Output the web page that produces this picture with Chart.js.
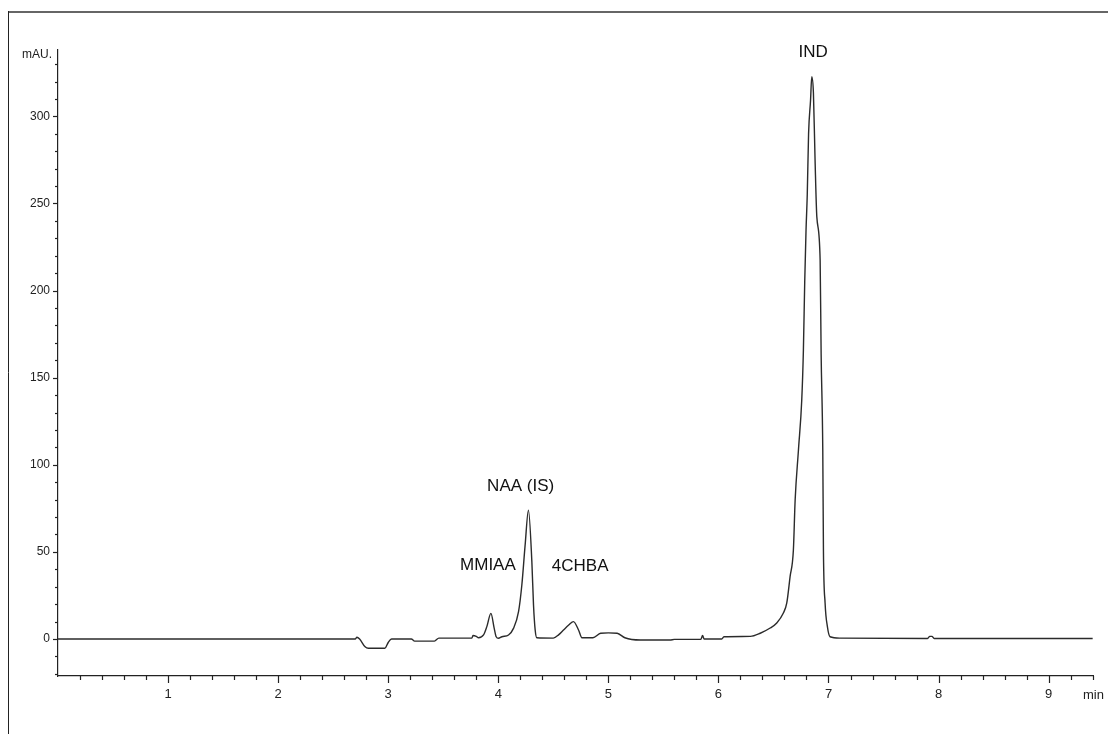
<!DOCTYPE html>
<html>
<head>
<meta charset="utf-8">
<script src="https://cdn.jsdelivr.net/npm/chart.js@4.4.1/dist/chart.umd.min.js"></script>
<style>
  html, body { margin: 0; padding: 0; background: #fff; }
  canvas { display: block; }
</style>
</head>
<body>
<canvas id="c" width="1108" height="734"></canvas>
<script>
// ---- Data ----
const retentionTimes = [
  0, 2.70, 2.716, 2.74, 2.79, 2.82, 2.97, 3.00, 3.03, 3.21, 3.24, 3.42, 3.46,
  3.76, 3.77, 3.80, 3.82, 3.866, 3.896, 3.933, 3.963, 3.981, 4.002,
  4.033, 4.093, 4.138, 4.184, 4.214, 4.244, 4.274, 4.305, 4.320, 4.335, 4.350,
  4.50, 4.55, 4.59, 4.64, 4.683, 4.73, 4.76, 4.86, 4.93, 5.00, 5.08, 5.15,
  5.29, 5.56, 5.60, 5.84, 5.856, 5.87, 6.03, 6.05, 6.29, 6.38,
  6.470, 6.530, 6.590, 6.621, 6.651, 6.681, 6.697, 6.727, 6.757, 6.772, 6.784,
  6.796, 6.807, 6.819, 6.837, 6.848, 6.863, 6.878, 6.894, 6.924, 6.933, 6.948,
  6.954, 6.969, 6.990, 7.014, 7.105, 7.90, 7.92, 7.94, 7.96, 9.40
];
const absorbance = [
  0, 0, 1.0, 0, -4.5, -5.3, -5.3, -2, 0, 0, -1.2, -1.2, 0.5,
  0.5, 2.0, 1.5, 0.7, 2.3, 7.1, 14.7, 6.1, 1.3, 0.4,
  1.3, 2.3, 6.1, 15.7, 31, 54, 74, 44.4, 19.5, 5.2, 0.7,
  0.5, 2.5, 5, 8, 10, 5, 0.7, 0.7, 3.3, 3.5, 3.3, 0.7,
  -0.6, -0.6, -0.2, -0.2, 2, 0, 0, 1.3, 1.5, 3.3,
  6.3, 9.2, 14.9, 20.7, 35.8, 51.1, 79.8, 108.5, 137.2, 165.9, 205,
  235, 255, 290, 309.4, 322.8, 313.4, 275, 242.3, 217.6, 164, 108.5,
  51.1, 20.7, 7.1, 1.3, 0.5, 0.3, 1.5, 1.5, 0.3, 0.3
];
const peakNames = ['IND', 'NAA (IS)', 'MMIAA', '4CHBA'];
const peakLabelTimes = [6.860, 4.203, 3.906, 4.744];
const peakLabelValues = [337, 87.4, 42.5, 41.5];

const xMajorTicks = [1, 2, 3, 4, 5, 6, 7, 8, 9];
const yMajorTicks = [0, 50, 100, 150, 200, 250, 300];
const xUnit = 'min';
const yUnit = 'mAU.';

const points = retentionTimes.map((t, i) => ({ x: t, y: absorbance[i] }));

const FONT = '"Liberation Sans", Arial, sans-serif';

const decorPlugin = {
  id: 'decor',
  beforeDraw(chart) {
    const ctx = chart.ctx;
    ctx.save();
    ctx.fillStyle = '#fff';
    ctx.fillRect(0, 0, chart.width, chart.height);
    // outer frame
    ctx.strokeStyle = '#666';
    ctx.lineWidth = 2;
    ctx.beginPath();
    ctx.moveTo(8, 12);
    ctx.lineTo(chart.width, 12);
    ctx.stroke();
    ctx.strokeStyle = '#222';
    ctx.lineWidth = 1;
    ctx.beginPath();
    ctx.moveTo(8.5, 11);
    ctx.lineTo(8.5, chart.height);
    ctx.stroke();
    ctx.restore();
  },
  afterDraw(chart) {
    const ctx = chart.ctx;
    const xs = chart.scales.x, ys = chart.scales.y;
    const area = chart.chartArea;
    ctx.save();
    ctx.strokeStyle = '#222';
    ctx.lineWidth = 1.2;
    // x ticks (minor every 0.2, major every 1)
    for (let k = 1; k <= Math.round(xs.max / 0.2); k++) {
      const v = k * 0.2;
      const major = xMajorTicks.some(m => Math.abs(m - v) < 1e-6);
      const px = Math.round(xs.getPixelForValue(v)) + 0.5;
      ctx.beginPath();
      ctx.moveTo(px, area.bottom);
      ctx.lineTo(px, area.bottom + (major ? 7 : 4));
      ctx.stroke();
    }
    // y ticks (minor every 10, major every 50)
    for (let v = Math.ceil(ys.min / 10) * 10; v <= ys.max; v += 10) {
      const major = yMajorTicks.includes(v);
      const py = Math.round(ys.getPixelForValue(v)) + 0.5;
      ctx.beginPath();
      ctx.moveTo(area.left, py);
      ctx.lineTo(area.left - (major ? 5 : 3), py);
      ctx.stroke();
    }
    // unit labels
    ctx.fillStyle = '#222';
    ctx.font = '12px ' + FONT;
    ctx.textAlign = 'right';
    ctx.textBaseline = 'middle';
    ctx.fillText(yUnit, area.left - 6, 55);
    ctx.textAlign = 'left';
    ctx.font = '13px ' + FONT;
    ctx.fillText(xUnit, area.right - 10, 695);
    // peak labels
    ctx.fillStyle = '#111';
    ctx.font = '17px ' + FONT;
    ctx.textAlign = 'center';
    ctx.textBaseline = 'middle';
    peakNames.forEach((name, i) => {
      ctx.fillText(name, xs.getPixelForValue(peakLabelTimes[i]), ys.getPixelForValue(peakLabelValues[i]));
    });
    ctx.restore();
  }
};

new Chart(document.getElementById('c'), {
  type: 'scatter',
  data: {
    datasets: [{
      data: points,
      showLine: true,
      borderColor: '#2b2b2b',
      borderWidth: 1.4,
      pointRadius: 0,
      cubicInterpolationMode: 'monotone',
      fill: false
    }]
  },
  options: {
    responsive: false,
    animation: false,
    devicePixelRatio: 1,
    layout: { padding: { top: 50, right: 15, left: 0, bottom: 0 } },
    plugins: { legend: { display: false }, tooltip: { enabled: false } },
    scales: {
      x: {
        type: 'linear',
        min: 0,
        max: 9.403,
        afterFit(s) { s.height = 58; },
        grid: { display: false, drawTicks: false },
        border: { display: true, color: '#222', width: 1.2 },
        ticks: {
          stepSize: 1,
          includeBounds: false,
          autoSkip: false,
          maxRotation: 0,
          padding: 11,
          color: '#222',
          font: { family: FONT, size: 13 },
          callback: v => (xMajorTicks.includes(v) ? String(v) : '')
        }
      },
      y: {
        type: 'linear',
        min: -21.24,
        max: 338.1,
        afterFit(s) { s.width = 58; },
        grid: { display: false, drawTicks: false },
        border: { display: true, color: '#222', width: 1.2 },
        ticks: {
          stepSize: 50,
          includeBounds: false,
          autoSkip: false,
          padding: 8,
          color: '#222',
          font: { family: FONT, size: 12 },
          callback: v => (yMajorTicks.includes(v) ? String(v) : '')
        }
      }
    }
  },
  plugins: [decorPlugin]
});
</script>
</body>
</html>
